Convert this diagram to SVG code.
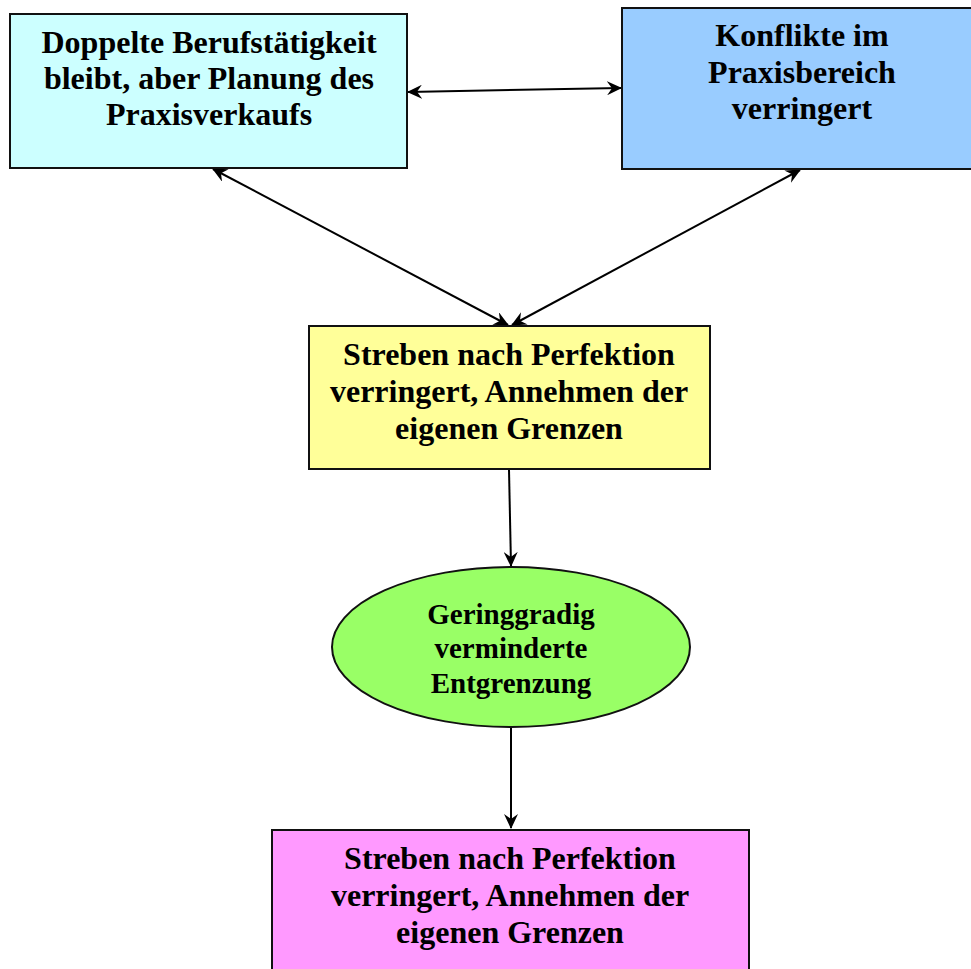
<svg xmlns="http://www.w3.org/2000/svg" width="971" height="969" viewBox="0 0 971 969">
  <style>
    .box { stroke: #111; stroke-width: 2; }
    .lbl { font-family: "Liberation Serif", "Times New Roman", serif; font-weight: bold; font-size: 32px; fill: #000; text-anchor: middle; }
    .lbl-sm { font-size: 29px; }
    .edge { stroke: #000; stroke-width: 2; fill: none; }
  </style>
  <defs>
    <marker id="arrow" viewBox="0 0 15 14" refX="14" refY="7" markerWidth="15" markerHeight="14" markerUnits="userSpaceOnUse" orient="auto-start-reverse">
      <path d="M0,0 L15,7 L0,14 L5,7 Z" fill="#000"/>
    </marker>
  </defs>
  <rect width="971" height="969" fill="#fff"/>

  <g id="connectors">
    <line class="edge" x1="408" y1="92" x2="621" y2="88" marker-start="url(#arrow)" marker-end="url(#arrow)"/>
    <line class="edge" x1="213" y1="169" x2="508" y2="325" marker-start="url(#arrow)" marker-end="url(#arrow)"/>
    <line class="edge" x1="800" y1="170" x2="512" y2="325" marker-start="url(#arrow)" marker-end="url(#arrow)"/>
    <line class="edge" x1="509" y1="470" x2="511" y2="566" marker-end="url(#arrow)"/>
    <line class="edge" x1="511" y1="728" x2="511" y2="828" marker-end="url(#arrow)"/>
  </g>

  <g id="node-doppelte">
    <rect class="box" x="10" y="14" width="397" height="154" fill="#ccffff"/>
    <text class="lbl" x="209" y="53">Doppelte Berufstätigkeit</text>
    <text class="lbl" x="209" y="89">bleibt, aber Planung des</text>
    <text class="lbl" x="209" y="125">Praxisverkaufs</text>
  </g>

  <g id="node-konflikte">
    <rect class="box" x="622" y="8" width="352" height="161" fill="#99ccff"/>
    <text class="lbl" x="802" y="46">Konflikte im</text>
    <text class="lbl" x="802" y="83">Praxisbereich</text>
    <text class="lbl" x="802" y="119">verringert</text>
  </g>

  <g id="node-streben-1">
    <rect class="box" x="309" y="326" width="401" height="143" fill="#ffff99"/>
    <text class="lbl" x="509" y="365">Streben nach Perfektion</text>
    <text class="lbl" x="509" y="402">verringert, Annehmen der</text>
    <text class="lbl" x="509" y="439">eigenen Grenzen</text>
  </g>

  <g id="node-entgrenzung">
    <ellipse class="box" cx="511" cy="647" rx="179" ry="80" fill="#99ff66"/>
    <text class="lbl lbl-sm" x="511" y="624">Geringgradig</text>
    <text class="lbl lbl-sm" x="511" y="658">verminderte</text>
    <text class="lbl lbl-sm" x="511" y="693">Entgrenzung</text>
  </g>

  <g id="node-streben-2">
    <rect class="box" x="272" y="830" width="477" height="145" fill="#ff99ff"/>
    <text class="lbl" x="510" y="869">Streben nach Perfektion</text>
    <text class="lbl" x="510" y="906">verringert, Annehmen der</text>
    <text class="lbl" x="510" y="943">eigenen Grenzen</text>
  </g>
</svg>
